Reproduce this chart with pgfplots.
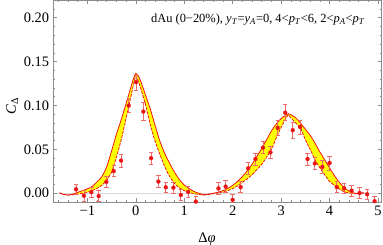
\documentclass[border=0pt]{standalone}
\usepackage{fontspec}
\setmainfont{Liberation Serif}
\usepackage{pgfplots}
\pgfplotsset{compat=1.18}
\usepgfplotslibrary{fillbetween}
\definecolor{mred}{RGB}{235,20,20}
\definecolor{merr}{RGB}{240,105,105}
\definecolor{myel}{RGB}{255,255,0}
\definecolor{frm}{RGB}{140,140,140}

\pgfplotstableread{
x y e
-1.233 0.0045 0.006
-1.070 -0.0028 0.006
-0.917 0.0012 0.006
-0.765 -0.0032 0.006
-0.607 0.0130 0.006
-0.455 0.0252 0.0065
-0.304 0.0372 0.0075
-0.145 0.0998 0.008
0.006 0.1266 0.009
0.157 0.0930 0.010
0.316 0.0400 0.007
0.467 0.0133 0.007
0.620 0.0068 0.006
0.777 0.0064 0.006
0.930 -0.0020 0.006
1.080 0.0015 0.006
1.240 -0.0095 0.006
1.707 0.0055 0.007
1.855 0.0076 0.007
2.000 -0.0075 0.006
2.165 0.0070 0.006
2.320 0.0285 0.007
2.470 0.0390 0.007
2.625 0.0520 0.007
2.780 0.0465 0.007
2.930 0.0745 0.008
3.085 0.0918 0.009
3.240 0.0718 0.009
3.390 0.0755 0.008
3.545 0.0390 0.007
3.695 0.0340 0.007
3.850 0.0300 0.007
4.000 0.0345 0.008
4.150 0.0070 0.006
4.300 0.0057 0.006
4.455 0.0030 0.006
4.620 0.0003 0.006
4.775 -0.0011 0.006
4.930 -0.0090 0.006
}\datatab

\pgfplotstableread{
x y
-1.571 0.0005
-1.5 -0.0012
-1.4 -0.002
-1.3 -0.001
-1.2 0.001
-1.1 0.003
-1.0 0.005
-0.9 0.0078
-0.8 0.013
-0.7 0.019
-0.6 0.030
-0.5 0.048
-0.4 0.067
-0.3 0.084
-0.2 0.102
-0.1 0.121
-0.05 0.130
0 0.1365
0.05 0.134
0.1 0.128
0.2 0.112
0.3 0.096
0.4 0.077
0.5 0.059
0.6 0.045
0.7 0.034
0.8 0.024
0.9 0.0155
1.0 0.0095
1.1 0.0055
1.2 0.002
1.3 0.0
1.4 -0.0015
1.5 -0.001
1.6 0.0
1.7 0.0012
1.8 0.003
1.9 0.0055
2.0 0.009
2.1 0.0135
2.2 0.019
2.3 0.0255
2.4 0.033
2.5 0.042
2.6 0.051
2.7 0.061
2.8 0.071
2.9 0.079
3.0 0.085
3.1 0.089
3.15 0.0905
3.2 0.0895
3.3 0.086
3.4 0.080
3.5 0.073
3.6 0.066
3.7 0.057
3.8 0.047
3.9 0.038
4.0 0.029
4.1 0.020
4.2 0.0125
4.3 0.0065
4.4 0.0025
4.5 0.0003
4.6 -0.0005
4.712 0.0005
}\outertab

\pgfplotstableread{
x y
-1.571 0.0005
-1.5 -0.0012
-1.4 -0.002
-1.3 -0.0018
-1.2 -0.001
-1.1 0.0
-1.0 0.0012
-0.9 0.003
-0.8 0.0055
-0.7 0.009
-0.6 0.015
-0.5 0.024
-0.4 0.041
-0.3 0.061
-0.2 0.085
-0.1 0.110
-0.05 0.123
0 0.1335
0.05 0.128
0.1 0.120
0.2 0.101
0.3 0.078
0.4 0.059
0.5 0.044
0.6 0.030
0.7 0.019
0.8 0.011
0.9 0.006
1.0 0.003
1.1 0.001
1.2 -0.0005
1.3 -0.0015
1.4 -0.002
1.5 -0.0015
1.6 -0.0005
1.7 0.0005
1.8 0.0015
1.9 0.003
2.0 0.0052
2.1 0.0085
2.2 0.0125
2.3 0.0165
2.4 0.021
2.5 0.027
2.6 0.033
2.7 0.041
2.8 0.050
2.9 0.063
3.0 0.075
3.1 0.0855
3.15 0.089
3.2 0.086
3.3 0.080
3.4 0.0744
3.5 0.061
3.6 0.050
3.7 0.038
3.8 0.029
3.9 0.021
4.0 0.0135
4.1 0.009
4.2 0.005
4.3 0.0018
4.4 0.0003
4.5 -0.0005
4.6 -0.0005
4.712 0.0005
}\innertab

\begin{document}
\begin{tikzpicture}
\begin{axis}[
  set layers,
  scale only axis, width=328.4bp, height=202.3bp,
  xmin=-1.702, xmax=5.076, ymin=-0.0103, ymax=0.2201,
  axis line style={frm, line width=0.6bp},
  xtick={-1,0,1,2,3,4,5}, xticklabels={−1,0,1,2,3,4,5},
  ytick={0,0.05,0.1,0.15,0.2}, yticklabels={0.00,0.05,0.10,0.15,0.20},
  minor xtick={-1.6,-1.4,...,5.0},
  minor ytick={-0.01,0,...,0.22},
  tick align=inside, tick pos=both,
  major tick length=4bp, minor tick length=2.2bp,
  every tick/.style={frm, line width=0.5bp},
  ticklabel style={font=\fontsize{14.5}{16}\selectfont, text=black},
  xticklabel style={inner sep=0pt, yshift=-3.5bp},
  yticklabel style={inner sep=0pt, xshift=-4bp},
  xlabel={Δ\textit{φ}},
  ylabel={\textit{C}\textsubscript{Δ}},
  label style={font=\fontsize{14.5}{16}\selectfont, text=black},
  xlabel style={at={(axis description cs:0.468,0)}, anchor=base, yshift=-40bp},
  ylabel style={at={(axis description cs:-0.125,0.476)}, anchor=center},
]
\addplot[on layer=axis background, black!15, line width=1.3bp, forget plot] coordinates {(-1.702,0) (5.076,0)};
\addplot[name path=O, mred, line width=0.8bp, smooth, tension=0.35] table[x=x,y=y] {\outertab};
\addplot[name path=I, mred, line width=0.8bp, dash pattern=on 3bp off 1.2bp, smooth, tension=0.35] table[x=x,y=y] {\innertab};
\addplot[myel] fill between[of=O and I];
\addplot[only marks, mark=*, mark size=2bp, mark options={fill=mred, draw=mred, line width=0.2bp},
  error bars/.cd, y dir=both, y explicit,
  error bar style={merr, line width=0.7bp},
  error mark options={rotate=90, merr, mark size=2.2bp, line width=0.7bp}]
  table[x=x, y=y, y error=e] {\datatab};
\node[anchor=base east, font=\fontsize{12.5}{14}\selectfont, text=black, inner sep=0pt] at (rel axis cs:0.949,0.888)
  {dAu (0−20\%), \textit{y}\textsubscript{\textit{T}}=\textit{y}\textsubscript{\textit{A}}=0, 4<\textit{p}\textsubscript{\textit{T}}<6, 2<\textit{p}\textsubscript{\textit{A}}<\textit{p}\textsubscript{\textit{T}}};
\end{axis}
\pgfresetboundingbox
\path[use as bounding box] ([shift={(-53.3bp,-42.7bp)}]current axis.south west) rectangle ([shift={(1.3bp,0bp)}]current axis.north east);
\end{tikzpicture}
\end{document}
